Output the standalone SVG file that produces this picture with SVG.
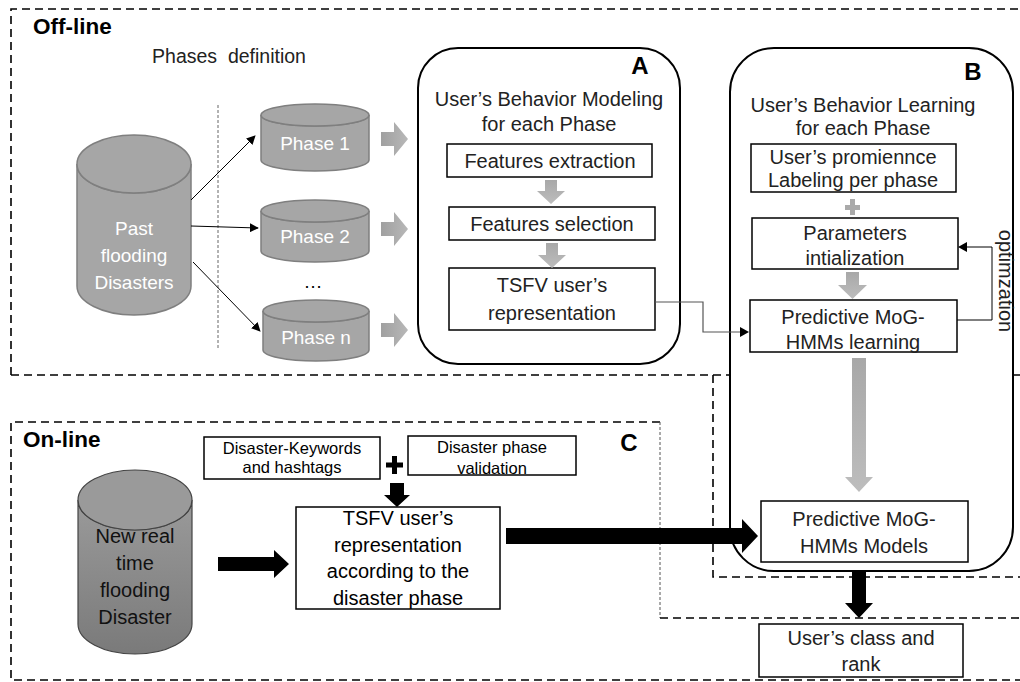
<svg xmlns="http://www.w3.org/2000/svg" width="1020" height="682" viewBox="0 0 1020 682">
<defs>
<style>
text{font-family:"Liberation Sans",Arial,sans-serif;fill:#222;text-anchor:middle}
.t{font-size:20px}
.w{fill:#fff;font-size:19px}
.b{font-weight:bold;text-anchor:start}
.o{font-size:20px;fill:#000}
.k{font-size:16.5px;fill:#000}
.box{fill:#fff;stroke:#000;stroke-width:1.5}
.rr{fill:#fff;stroke:#000;stroke-width:2}
.cyl{fill:#a6a6a6;stroke:#7f7f7f;stroke-width:1.5}
.dash{fill:none;stroke:#000;stroke-width:1.6;stroke-dasharray:8 5}
.thin{fill:none;stroke:#555;stroke-width:1;stroke-dasharray:3 2}
.ln{fill:none;stroke:#000;stroke-width:1}
.ga{fill:url(#gg)}
.ka{fill:#000}
</style>
<linearGradient id="gg" x1="0" y1="0" x2="0" y2="1"><stop offset="0" stop-color="#a8a8a8"/><stop offset="1" stop-color="#bdbdbd"/></linearGradient>
<linearGradient id="gh" x1="0" y1="0" x2="1" y2="0"><stop offset="0" stop-color="#a0a0a0"/><stop offset="1" stop-color="#b8b8b8"/></linearGradient>
<linearGradient id="gc" x1="0" y1="0" x2="0" y2="1"><stop offset="0" stop-color="#9a9a9a"/><stop offset="1" stop-color="#7a7a7a"/></linearGradient>
<marker id="ah" viewBox="0 0 10 10" refX="9" refY="5" markerWidth="9" markerHeight="9" markerUnits="userSpaceOnUse" orient="auto"><path d="M0,0 L10,5 L0,10 z" fill="#000"/></marker>
</defs>

<g id="boundaries">
<path class="dash" d="M11,375 V9 H1020"/>
<path class="dash" d="M11,375 H1020"/>
<path class="dash" d="M713,375 V577 H1020"/>
<path class="dash" d="M660,422 H11 V680 H1020"/>
<path class="thin" d="M660,422 V618"/>
<path class="dash" d="M660,618 H1020"/>
<line x1="218" y1="105" x2="218" y2="348" stroke="#666" stroke-width="1" stroke-dasharray="3 2"/>
</g>

<g id="labels">
<text class="b" x="33" y="34" style="font-size:22.5px;fill:#000">Off-line</text>
<text x="229" y="63" xml:space="preserve" style="font-size:19.5px;white-space:pre">Phases  definition</text>
<text class="b" x="23" y="447" style="font-size:22.5px;fill:#000">On-line</text>
<text x="629" y="451" style="font-size:24px;font-weight:bold;fill:#000">C</text>
</g>

<g id="past">
<path class="cyl" d="M77,164 A57,29 0 0 0 191,164 V286 A57,29 0 0 1 77,286 Z"/>
<ellipse class="cyl" cx="134" cy="164" rx="57" ry="29"/>
<text class="w" x="134" y="235">Past</text>
<text class="w" x="134" y="262">flooding</text>
<text class="w" x="134" y="289">Disasters</text>
</g>

<g id="phase1">
<path class="cyl" d="M261,115 A54,11 0 0 0 369,115 V160 A54,11 0 0 1 261,160 Z"/>
<ellipse class="cyl" cx="315" cy="115" rx="54" ry="11"/>
<text class="w" x="315" y="150">Phase 1</text>
</g>
<g id="phase2">
<path class="cyl" d="M261,211 A54,11 0 0 0 369,211 V251 A54,11 0 0 1 261,251 Z"/>
<ellipse class="cyl" cx="315" cy="211" rx="54" ry="11"/>
<text class="w" x="315" y="243">Phase 2</text>
</g>
<text x="313" y="288" style="font-size:19px;fill:#000">…</text>
<g id="phasen">
<path class="cyl" d="M263,311 A53,11 0 0 0 369,311 V350 A53,11 0 0 1 263,350 Z"/>
<ellipse class="cyl" cx="316" cy="311" rx="53" ry="11"/>
<text class="w" x="316" y="344">Phase n</text>
</g>

<g id="boxA">
<rect class="rr" x="418" y="48" width="262" height="316" rx="40"/>
<text x="640" y="74" style="font-size:24px;font-weight:bold;fill:#000">A</text>
<text class="t" x="549" y="106">User’s Behavior Modeling</text>
<text class="t" x="549" y="131">for each Phase</text>
<rect class="box" x="447" y="144" width="205" height="33"/>
<text class="t" x="550" y="168">Features extraction</text>
<rect class="box" x="449" y="207" width="206" height="33"/>
<text class="t" x="552" y="231">Features selection</text>
<rect class="box" x="449" y="268" width="206" height="62"/>
<text class="t" x="552" y="292">TSFV user’s</text>
<text class="t" x="552" y="320">representation</text>
</g>

<g id="boxB">
<rect class="rr" x="730" y="48" width="283" height="523" rx="44"/>
<text x="973" y="80" style="font-size:24px;font-weight:bold;fill:#000">B</text>
<text class="t" x="863" y="112">User’s Behavior Learning</text>
<text class="t" x="863" y="135">for each Phase</text>
<rect class="box" x="751" y="144" width="205" height="48"/>
<text class="t" x="853" y="164">User’s promiennce</text>
<text class="t" x="853" y="187">Labeling per phase</text>
<rect class="box" x="752" y="218" width="206" height="51"/>
<text class="t" x="855" y="240">Parameters</text>
<text class="t" x="855" y="265">intialization</text>
<rect class="box" x="750" y="300" width="207" height="52"/>
<text class="t" x="853" y="324">Predictive MoG-</text>
<text class="t" x="853" y="349">HMMs learning</text>
<text x="1004" y="281" transform="rotate(90 1004 281)" style="font-size:20px;dominant-baseline:middle">optimzation</text>
<rect class="box" x="761" y="501" width="207" height="61"/>
<text class="t" x="864" y="526">Predictive MoG-</text>
<text class="t" x="864" y="553">HMMs Models</text>
</g>

<g id="result">
<rect class="box" x="759" y="624" width="204" height="53"/>
<text class="t" x="861" y="645">User’s class and</text>
<text class="t" x="861" y="671">rank</text>
</g>

<g id="online">
<path d="M78,500 A57,30 0 0 0 192,500 V624 A57,30 0 0 1 78,624 Z" fill="url(#gc)" stroke="#444" stroke-width="1.2"/>
<ellipse cx="135" cy="500" rx="57" ry="30" fill="#9a9a9a" stroke="#444" stroke-width="1.2"/>
<text class="o" x="135" y="543" style="fill:#111">New real</text>
<text class="o" x="135" y="570" style="fill:#111">time</text>
<text class="o" x="135" y="597" style="fill:#111">flooding</text>
<text class="o" x="135" y="624" style="fill:#111">Disaster</text>
</g>

<g id="keywords">
<rect class="box" x="204" y="437" width="176" height="42"/>
<text class="k" x="292" y="454">Disaster-Keywords</text>
<text class="k" x="292" y="473">and hashtags</text>
</g>
<g id="validation">
<rect class="box" x="408" y="436" width="168" height="39"/>
<text class="k" x="492" y="453">Disaster phase</text>
<text class="k" x="492" y="474">validation</text>
</g>
<g id="tsfvOnline">
<rect class="box" x="296" y="507" width="204" height="102"/>
<text class="o" x="398" y="525">TSFV user’s</text>
<text class="o" x="398" y="552">representation</text>
<text class="o" x="398" y="578">according to the</text>
<text class="o" x="398" y="605">disaster phase</text>
</g>

<g id="connectors">
<line class="ln" x1="191" y1="200" x2="255" y2="136" marker-end="url(#ah)"/>
<line class="ln" x1="191" y1="226" x2="258" y2="228" marker-end="url(#ah)"/>
<line class="ln" x1="193" y1="262" x2="260" y2="331" marker-end="url(#ah)"/>
<path style="fill:url(#gh)" d="M381,132 H394 V122 L408,139 L394,156 V146 H381 Z"/>
<path style="fill:url(#gh)" d="M381,222 H394 V212 L408,229 L394,246 V236 H381 Z"/>
<path style="fill:url(#gh)" d="M381,323 H394 V313 L408,330 L394,347 V337 H381 Z"/>
<path class="ga" d="M545,180 H557 V191 H565 L551,204 L537,191 H545 Z"/>
<path class="ga" d="M546,243 H558 V255 H566 L552,268 L538,255 H546 Z"/>
<path class="ga" d="M846,272 H859 V285 H867 L852.5,299 L838,285 H846 Z"/>
<rect x="850" y="199" width="5" height="16" fill="#aaa"/>
<rect x="845" y="205" width="15" height="5" fill="#aaa"/>
<path fill="url(#gg)" d="M852,358 H866 V477 H873 L859,492 L845,477 H852 Z"/>
<path fill="none" stroke="#555" stroke-width="1.2" d="M655,302 H703 V332 H741"/>
<path d="M740,327 L749,332 L740,337 Z" fill="#000"/>
<path class="ln" d="M957,320 H992 V247 H966"/>
<path d="M967,242 L958,247 L967,252 Z" fill="#000"/>
<path class="ka" d="M852,572 H866 V603 H873 L859,618 L845,603 H852 Z"/>
<path class="ka" d="M392,456 H397 V474 H392 Z M386,462.5 H403 V467.5 H386 Z"/>
<path class="ka" d="M390,483 H404 V495 H410 L397,507 L384,495 H390 Z"/>
<path class="ka" d="M218,557 H274 V550 L289,564 L274,578 V571 H218 Z"/>
<path class="ka" d="M506,528 H742 V519 L758,536 L742,553 V544 H506 Z"/>
</g>
</svg>
